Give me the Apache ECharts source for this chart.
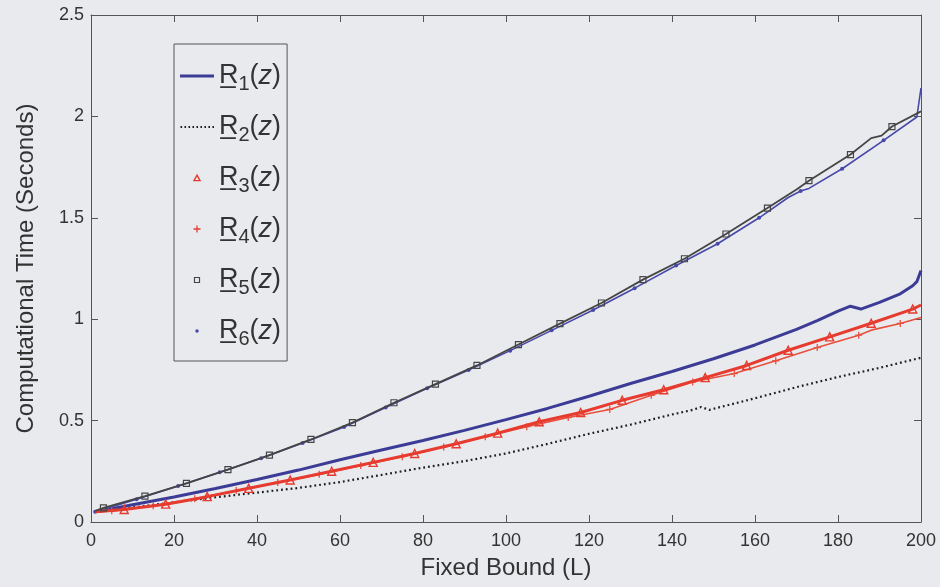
<!DOCTYPE html>
<html>
<head>
<meta charset="utf-8">
<script src="https://cdn.jsdelivr.net/npm/echarts@6/dist/echarts.min.js"></script>
<style>
  html, body { margin: 0; padding: 0; background: #e9eaee; }
  #chart { width: 940px; height: 587px; }
</style>
</head>
<body>
<div id="chart"></div>
<script>
// ---- data (x = Fixed Bound L, y = seconds) ----
const seriesNames = ['R1(z)', 'R2(z)', 'R3(z)', 'R4(z)', 'R5(z)', 'R6(z)'];
const subscripts = ['1', '2', '3', '4', '5', '6'];

const r1 = [[1,0.05],[10,0.085],[20,0.123],[30,0.165],[40,0.21],[50,0.256],[60,0.307],[70,0.355],[80,0.402],[90,0.452],[100,0.505],[110,0.56],[120,0.62],[130,0.683],[140,0.742],[150,0.805],[160,0.873],[170,0.95],[175,0.993],[180,1.04],[183,1.064],[185.5,1.05],[190,1.083],[195,1.125],[198,1.165],[199,1.185],[200,1.24]];
const r2 = [[1,0.05],[10,0.072],[20,0.097],[30,0.122],[40,0.145],[50,0.168],[60,0.197],[70,0.232],[80,0.268],[90,0.3],[100,0.338],[110,0.385],[120,0.435],[130,0.48],[140,0.53],[145,0.553],[147,0.567],[149,0.553],[160,0.61],[170,0.665],[180,0.715],[190,0.76],[200,0.81]];
const r3 = [[1,0.05],[8,0.062],[18,0.088],[28,0.125],[38,0.166],[48,0.207],[58,0.25],[68,0.294],[78,0.338],[88,0.386],[98,0.438],[108,0.494],[118,0.54],[128,0.6],[138,0.652],[148,0.712],[158,0.772],[168,0.847],[178,0.913],[188,0.98],[198,1.05],[200,1.07]];
const r4 = [[1,0.048],[5,0.055],[15,0.08],[25,0.115],[35,0.155],[45,0.195],[55,0.235],[65,0.278],[75,0.322],[85,0.37],[95,0.42],[105,0.47],[115,0.515],[125,0.555],[135,0.625],[145,0.69],[155,0.732],[165,0.795],[175,0.86],[185,0.921],[188,0.946],[195,0.979],[200,1.008]];
const r5 = [[1,0.055],[3,0.07],[13,0.128],[23,0.19],[33,0.258],[43,0.33],[53,0.407],[63,0.49],[73,0.588],[83,0.68],[93,0.772],[103,0.875],[113,0.978],[123,1.08],[133,1.195],[143,1.298],[153,1.42],[163,1.548],[170,1.64],[173,1.683],[183,1.812],[188,1.893],[190.5,1.905],[193,1.95],[200,2.025]];
const r6 = [[1,0.05],[11,0.112],[21,0.177],[31,0.245],[41,0.314],[51,0.39],[61,0.468],[71,0.565],[81,0.66],[91,0.75],[101,0.845],[111,0.945],[121,1.045],[131,1.153],[141,1.265],[151,1.372],[161,1.5],[168,1.6],[171,1.632],[173,1.645],[181,1.742],[191,1.882],[199,1.997],[200,2.14]];

// ---- styling ----
const FONT = "'Liberation Sans', Arial, Helvetica, sans-serif";
const BG = '#e9eaee';
const AXIS = '#555';
const TXT = '#333';
const NAVY = '#3c3c96';
const BLUE = '#4848aa';
const GRAY = '#454545';
const RED = '#e63b2e';
const RED2 = '#e8503e';
const DOTC = '#1e1e1e';

const plusPath = 'path://M0,0M8,8M3.35,0.5H4.65V7.5H3.35ZM0.5,3.35H7.5V4.65H0.5Z';
const sqPath = 'path://M0,0M8,8M1.5,1.5H6.5V6.5H1.5Z';
const dotPath = 'path://M0,0M8,8M2.3,4A1.7,1.7 0 1,0 5.7,4A1.7,1.7 0 1,0 2.3,4Z';
const triPath = 'path://M0,0M8,8M4,1.2L7,6.6H1Z';
const linePath = 'path://M0,0M34,8M0,2.6H34V5.4H0Z';
let dots = 'path://M0,0M34,8';
for (let i = 0; i < 9; i++) { const x = 0.5 + i * 4; dots += 'M' + x + ',3H' + (x + 1.6) + 'V5H' + x + 'Z'; }
const dottedPath = dots;

function markAt(offset, sym) {
  return function (val) { return (val[0] % 10 === offset && val[0] !== 200) ? sym : 'none'; };
}

const chart = echarts.init(document.getElementById('chart'), null, { renderer: 'canvas' });

function axisCommon(extra) {
  return Object.assign({
    type: 'value',
    axisLine: { show: true, onZero: false, lineStyle: { color: AXIS, width: 1 } },
    axisTick: { show: true, inside: true, length: 7, lineStyle: { color: AXIS, width: 1 } },
    splitLine: { show: false },
  }, extra);
}

const option = {
  backgroundColor: BG,
  animation: false,
  textStyle: { fontFamily: FONT },
  grid: { left: 91, right: 19, top: 15, bottom: 65, show: false },
  xAxis: [
    axisCommon({
      min: 0, max: 200, interval: 20,
      axisLabel: { fontSize: 18, color: TXT, margin: 10, fontFamily: FONT },
      name: 'Fixed Bound (L)', nameLocation: 'middle', nameGap: 34,
      nameTextStyle: { fontSize: 24, color: TXT, fontFamily: FONT }
    }),
    axisCommon({
      min: 0, max: 200, interval: 20, position: 'top',
      axisLabel: { show: false }
    })
  ],
  yAxis: [
    axisCommon({
      min: 0, max: 2.5, interval: 0.5,
      axisLabel: { fontSize: 18, color: TXT, margin: 7, fontFamily: FONT },
      name: 'Computational Time (Seconds)', nameLocation: 'middle', nameGap: 53,
      nameTextStyle: { fontSize: 24, color: TXT, fontFamily: FONT }
    }),
    axisCommon({
      min: 0, max: 2.5, interval: 0.5, position: 'right',
      axisLabel: { show: false }
    })
  ],
  legend: {
    orient: 'vertical',
    left: 174, top: 44,
    padding: [14, 6, 12, 6],
    itemGap: 15,
    itemWidth: 34, itemHeight: 8,
    borderColor: '#555', borderWidth: 1,
    backgroundColor: BG,
    selectedMode: false,
    formatter: function (name) {
      const i = seriesNames.indexOf(name);
      return '{r|R\u0332}{s|' + subscripts[i] + '}{p|(}{z|z}{p|)}';
    },
    textStyle: {
      color: TXT, fontFamily: FONT,
      rich: {
        r: { fontSize: 27, color: TXT, fontFamily: FONT, lineHeight: 30 },
        s: { fontSize: 20, color: TXT, fontFamily: FONT, lineHeight: 30, padding: [16, 0, 0, 0] },
        p: { fontSize: 27, color: TXT, fontFamily: FONT, lineHeight: 30 },
        z: { fontSize: 27, color: TXT, fontFamily: FONT, fontStyle: 'italic', lineHeight: 30 }
      }
    },
    data: [
      { name: 'R1(z)', icon: linePath, itemStyle: { color: NAVY, borderWidth: 0 } },
      { name: 'R2(z)', icon: dottedPath, itemStyle: { color: DOTC, borderWidth: 0 } },
      { name: 'R3(z)', icon: triPath, itemStyle: { color: 'rgba(0,0,0,0)', borderColor: RED, borderWidth: 1.4 } },
      { name: 'R4(z)', icon: plusPath, itemStyle: { color: RED, borderWidth: 0 } },
      { name: 'R5(z)', icon: sqPath, itemStyle: { color: 'rgba(0,0,0,0)', borderColor: GRAY, borderWidth: 1.2 } },
      { name: 'R6(z)', icon: dotPath, itemStyle: { color: BLUE, borderWidth: 0 } }
    ]
  },
  series: [
    {
      name: 'R1(z)', type: 'line', data: r1, symbol: 'none',
      lineStyle: { color: NAVY, width: 3 }, itemStyle: { color: NAVY }, z: 3
    },
    {
      name: 'R2(z)', type: 'line', data: r2, symbol: 'none',
      lineStyle: { color: DOTC, width: 2.2, type: [1.8, 3] }, itemStyle: { color: DOTC }, z: 2
    },
    {
      name: 'R3(z)', type: 'line', data: r3, showSymbol: true, showAllSymbol: true,
      symbol: markAt(8, 'triangle'), symbolSize: 8,
      lineStyle: { color: RED, width: 3 },
      itemStyle: { color: 'rgba(0,0,0,0)', borderColor: RED, borderWidth: 1.4 }, z: 4
    },
    {
      name: 'R4(z)', type: 'line', data: r4, showSymbol: true, showAllSymbol: true,
      symbol: markAt(5, plusPath), symbolSize: 8,
      lineStyle: { color: RED2, width: 1.6 },
      itemStyle: { color: RED2, borderWidth: 0 }, z: 3
    },
    {
      name: 'R5(z)', type: 'line', data: r5, showSymbol: true, showAllSymbol: true,
      symbol: markAt(3, 'rect'), symbolSize: 6,
      lineStyle: { color: GRAY, width: 1.8 },
      itemStyle: { color: 'rgba(0,0,0,0)', borderColor: GRAY, borderWidth: 1.2 }, z: 4
    },
    {
      name: 'R6(z)', type: 'line', data: r6, showSymbol: true, showAllSymbol: true,
      symbol: markAt(1, 'circle'), symbolSize: 4,
      lineStyle: { color: BLUE, width: 1.6 },
      itemStyle: { color: BLUE, borderWidth: 0 }, z: 3
    }
  ]
};

chart.setOption(option);
</script>
</body>
</html>
